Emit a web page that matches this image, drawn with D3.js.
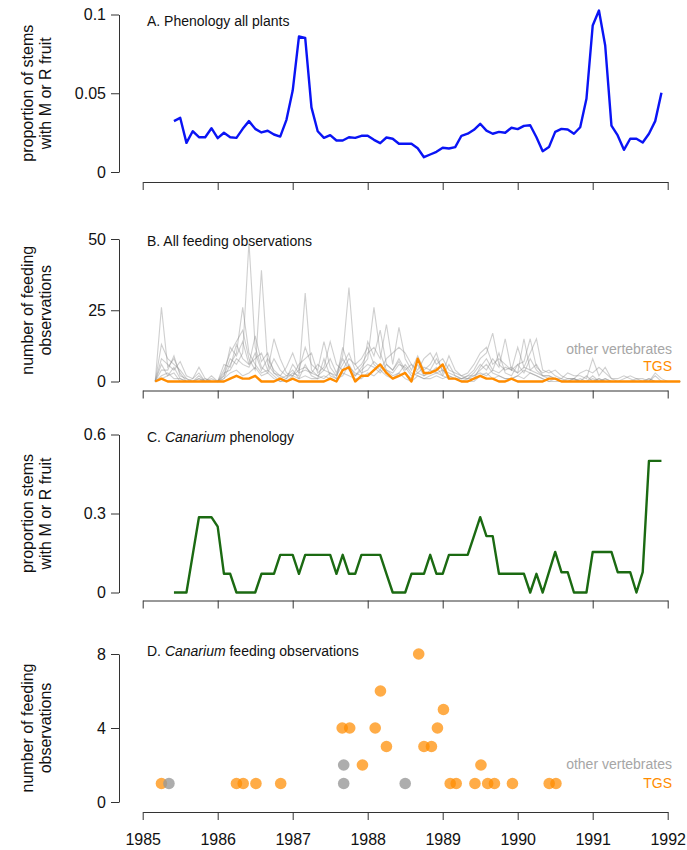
<!DOCTYPE html>
<html><head><meta charset="utf-8">
<script src="https://cdn.jsdelivr.net/npm/d3@7"></script>
<style>body{margin:0;background:#fff}svg{display:block}text{font-family:"Liberation Sans",Arial,Helvetica,sans-serif}</style>
</head><body><div id="chart"></div>
<script>
// ---- DATA ----
const years = [1985,1986,1987,1988,1989,1990,1991,1992];
// Panel A & C: monthly series, Jun 1985 .. Dec 1991
const phenStart = "1985-06", phenEnd = "1991-12";
const phenAll = [0.0323,0.0344,0.0185,0.0259,0.0221,0.0221,0.0278,0.0215,0.0249,0.0221,0.0217,0.0274,0.0323,0.0274,0.0251,0.0262,0.0238,0.0225,0.0331,0.0517,0.0860,0.0852,0.0410,0.0259,0.0217,0.0234,0.0200,0.0200,0.0221,0.0217,0.0230,0.0230,0.0204,0.0183,0.0219,0.0211,0.0179,0.0179,0.0179,0.0151,0.0094,0.0111,0.0128,0.0154,0.0149,0.0158,0.0230,0.0243,0.0268,0.0306,0.0263,0.0243,0.0255,0.0249,0.0281,0.0272,0.0293,0.0297,0.0221,0.0132,0.0158,0.0255,0.0274,0.0270,0.0243,0.0284,0.0465,0.0930,0.1025,0.0803,0.0295,0.0232,0.0141,0.0211,0.0211,0.0187,0.0243,0.0323,0.0503];
const phenCanarium = [0,0,0,0.143,0.286,0.286,0.286,0.25,0.071,0.071,0,0,0,0,0.071,0.071,0.071,0.143,0.143,0.143,0.071,0.143,0.143,0.143,0.143,0.143,0.071,0.143,0.071,0.071,0.143,0.143,0.143,0.143,0.071,0,0,0,0.071,0.071,0.071,0.143,0.071,0.071,0.143,0.143,0.143,0.143,0.214,0.286,0.214,0.214,0.071,0.071,0.071,0.071,0.071,0,0.071,0,0.077,0.154,0.077,0.077,0,0,0,0.154,0.154,0.154,0.154,0.077,0.077,0.077,0,0.077,0.5,0.5,0.5];
// Panel B: monthly, Mar 1985 .. Mar 1992
const feedStart = "1985-03", feedEnd = "1992-03";
const feedTGS = [0,1,0,0,0,0,0,0,0,0,0,0,1,2,1,1,2,0,0,0,1,0,1,0,0,0,0,0,1,0,4,5,0,2,2,4,6,3,1,2,3,0,8,3,3,4,6,1,1,0,0,1,2,1,1,0,0,1,0,0,0,0,0,1,1,0,0,0,0,0,0,0,0,0,0,0,0,0,0,0,0,0,0,0,0];
const feedOther1 = [0,26,5,8,3,0,0,2,0,0,0,1,6,10,26,10,6,3,4,2,0,1,3,2,31,4,2,1,3,2,8,4,2,5,8,26,10,4,2,3,6,3,2,1,2,3,2,1,1,0,1,2,4,6,3,2,1,1,2,4,3,2,1,0,1,0,0,1,0,0,0,1,0,0,0,0,0,1,0,0,0,0,0,0,0];
const feedOther2 = [0,13,8,6,4,1,0,0,1,0,0,2,8,6,10,49,12,5,3,8,4,2,2,4,5,3,6,4,8,3,9,33,6,3,4,7,5,4,3,6,5,2,3,5,4,8,4,3,2,1,2,4,8,10,17,6,4,5,3,15,4,3,2,2,1,1,0,1,0,2,0,1,0,0,0,0,0,0,0,1,0,0,0,0,0];
const feedOther3 = [0,8,6,4,7,2,1,5,1,0,0,4,10,14,18,8,4,39,6,3,2,5,10,4,12,6,4,14,5,2,6,10,4,6,10,12,8,20,6,19,8,4,9,4,6,10,3,9,4,2,1,3,6,4,8,5,15,4,6,7,15,5,3,4,2,1,3,2,2,1,8,2,5,1,1,2,1,0,0,1,0,0,0,0,0];
const feedOther4 = [0,4,4,9,2,1,0,1,0,2,0,6,5,13,8,6,8,10,4,15,8,3,2,6,8,10,3,5,14,6,4,8,6,8,12,6,4,8,10,12,10,6,4,8,10,6,8,4,3,2,3,6,10,12,6,8,6,4,12,5,10,15,4,3,4,2,1,1,3,4,3,5,3,1,0,1,2,1,1,0,3,1,0,0,0];
const feedOther5 = [0,2,3,1,1,0,0,1,0,0,0,3,4,8,6,5,10,4,8,4,2,1,6,3,4,3,2,4,3,1,2,6,2,4,6,5,3,6,4,8,4,6,3,2,4,3,4,2,1,1,2,2,3,2,4,3,5,4,3,5,4,6,2,2,1,0,1,1,0,0,1,0,1,0,0,0,0,0,0,0,0,0,0,0,0];
const feedOther6 = [0,6,2,5,1,0,1,3,0,1,0,2,12,9,14,6,16,7,10,3,1,2,4,1,6,2,1,8,2,1,12,5,3,2,14,9,18,6,4,7,3,1,6,2,3,5,2,6,2,1,1,1,5,8,4,10,3,2,6,3,8,4,2,1,1,0,0,0,1,0,2,0,1,0,0,0,0,0,0,0,2,0,0,0,0];
const feedOther7 = [0,1,2,3,0,0,0,0,0,0,0,1,3,4,2,3,5,2,3,1,0,0,2,1,2,1,1,2,1,0,3,2,1,1,3,2,4,2,1,3,1,0,2,1,1,2,1,2,1,0,0,0,2,3,1,2,1,1,2,1,3,2,1,0,0,0,0,0,0,0,0,0,0,0,0,0,0,0,0,0,0,0,0,0,0];

// Panel D: Canarium feeding observations
const tgsDates  = [1985.25,1986.25,1986.34,1986.51,1986.84,1987.66,1987.76,1987.93,1988.10,1988.17,1988.25,1988.68,1988.75,1988.85,1988.93,1989.01,1989.10,1989.18,1989.43,1989.51,1989.60,1989.69,1989.93,1990.42,1990.51];
const tgsCounts = [1,1,1,1,1,4,4,2,4,6,3,8,3,3,4,5,1,1,1,2,1,1,1,1,1];
const otherDates  = [1985.35,1987.68,1987.68,1988.50];
const otherCounts = [1,2,1,1];

// ---- DRAWING ----
const W = 687, H = 850;
const svg = d3.select("#chart").append("svg").attr("width", W).attr("height", H);
const x = d3.scaleLinear().domain([1985, 1992]).range([142.7, 667.7]);
const toYear = d => d.getFullYear() + d.getMonth() / 12;
const monthSeq = (s, e) => {
  const [sy, sm] = s.split("-").map(Number), [ey, em] = e.split("-").map(Number);
  return d3.timeMonth.range(new Date(sy, sm - 1, 1), new Date(ey, em, 1)).map(toYear);
};
const phenX = monthSeq(phenStart, phenEnd);
const feedX = monthSeq(feedStart, feedEnd);

const axisColor = "#333";
function panel(cfg) {
  const y = d3.scaleLinear().domain(cfg.domain).range([cfg.y0, cfg.y1]);
  const ya = svg.append("g").attr("transform", "translate(119,0)")
    .call(d3.axisLeft(y).tickValues(cfg.ticks).tickFormat(cfg.fmt).tickSize(8).tickSizeOuter(0).tickPadding(5));
  ya.select(".domain").attr("stroke", axisColor);
  ya.selectAll(".tick line").attr("stroke", axisColor);
  ya.selectAll("text").attr("font-size", 16).attr("fill", "#111");
  const xa = svg.append("g").attr("transform", `translate(0,${cfg.axisY})`)
    .call(d3.axisBottom(x).tickValues(years).tickFormat(cfg.xlabels ? d3.format("d") : "").tickSize(8).tickSizeOuter(0).tickPadding(14));
  xa.select(".domain").attr("stroke", axisColor);
  xa.selectAll(".tick line").attr("stroke", axisColor);
  xa.selectAll("text").attr("font-size", 16).attr("fill", "#111");
  const cy = (cfg.y0 + cfg.y1) / 2;
  const yl = svg.append("text").attr("transform", `translate(0,${cy}) rotate(-90)`)
    .attr("text-anchor", "middle").attr("font-size", 16).attr("fill", "#111");
  yl.append("tspan").attr("x", 0).attr("y", 33).text(cfg.ylab[0]);
  yl.append("tspan").attr("x", 0).attr("y", 51).text(cfg.ylab[1]);
  const t = svg.append("text").attr("x", 147).attr("y", cfg.titleY).attr("font-size", 14).attr("fill", "#111");
  cfg.title.forEach(p => t.append("tspan").attr("font-style", p.it ? "italic" : "normal").text(p.t));
  return y;
}

// Panel A
const yA = panel({domain:[0,0.1], y0:172, y1:14.5, ticks:[0,0.05,0.1], fmt:d => d === 0 ? "0" : String(d), axisY:182,
  ylab:["proportion of stems","with M or R fruit"], titleY:25.5, title:[{t:"A. Phenology all plants"}]});
svg.append("path").datum(phenAll)
  .attr("fill","none").attr("stroke","#0a14f5").attr("stroke-width",2.4).attr("stroke-linejoin","round")
  .attr("d", d3.line().x((d,i) => x(phenX[i])).y(d => yA(d)));

// Panel B
const yB = panel({domain:[0,50], y0:381.5, y1:239, ticks:[0,25,50], fmt:d3.format("d"), axisY:390.5,
  ylab:["number of feeding","observations"], titleY:245.5, title:[{t:"B. All feeding observations"}]});
const others = [feedOther1, feedOther2, feedOther3, feedOther4, feedOther5, feedOther6, feedOther7];
const lineB = d3.line().x((d,i) => x(feedX[i])).y(d => yB(d));
svg.append("g").selectAll("path").data(others).join("path")
  .attr("fill","none").attr("stroke","#8c8c8c").attr("stroke-opacity",0.42).attr("stroke-width",1.1)
  .attr("d", lineB);
svg.append("path").datum(feedTGS)
  .attr("fill","none").attr("stroke","#ff8c00").attr("stroke-width",2.4).attr("stroke-linejoin","round")
  .attr("d", lineB);
svg.append("text").attr("x",672).attr("y",354).attr("text-anchor","end").attr("font-size",14).attr("fill","#a6a6a6").text("other vertebrates");
svg.append("text").attr("x",672).attr("y",371).attr("text-anchor","end").attr("font-size",14).attr("fill","#ff8c00").text("TGS");

// Panel C
const yC = panel({domain:[0,0.6], y0:592.5, y1:434.5, ticks:[0,0.3,0.6], fmt:d => d === 0 ? "0" : String(d), axisY:600.5,
  ylab:["proportion stems","with M or R fruit"], titleY:441.5, title:[{t:"C. "},{t:"Canarium",it:true},{t:" phenology"}]});
svg.append("path").datum(phenCanarium)
  .attr("fill","none").attr("stroke","#1b6a12").attr("stroke-width",2.4).attr("stroke-linejoin","round")
  .attr("d", d3.line().x((d,i) => x(phenX[i])).y(d => yC(d)));

// Panel D
const yD = panel({domain:[0,8], y0:802, y1:654, ticks:[0,4,8], fmt:d3.format("d"), axisY:812, xlabels:true,
  ylab:["number of feeding","observations"], titleY:655.5, title:[{t:"D. "},{t:"Canarium",it:true},{t:" feeding observations"}]});
svg.append("g").selectAll("circle").data(tgsDates).join("circle")
  .attr("cx", d => x(d)).attr("cy", (d,i) => yD(tgsCounts[i])).attr("r", 5.8)
  .attr("fill", "#ff8c00").attr("fill-opacity", 0.72);
svg.append("g").selectAll("circle").data(otherDates).join("circle")
  .attr("cx", d => x(d)).attr("cy", (d,i) => yD(otherCounts[i])).attr("r", 5.8)
  .attr("fill", "#999").attr("fill-opacity", 0.8);
svg.append("text").attr("x",672).attr("y",769).attr("text-anchor","end").attr("font-size",14).attr("fill","#a6a6a6").text("other vertebrates");
svg.append("text").attr("x",672).attr("y",788).attr("text-anchor","end").attr("font-size",14).attr("fill","#ff8c00").text("TGS");
</script></body></html>
